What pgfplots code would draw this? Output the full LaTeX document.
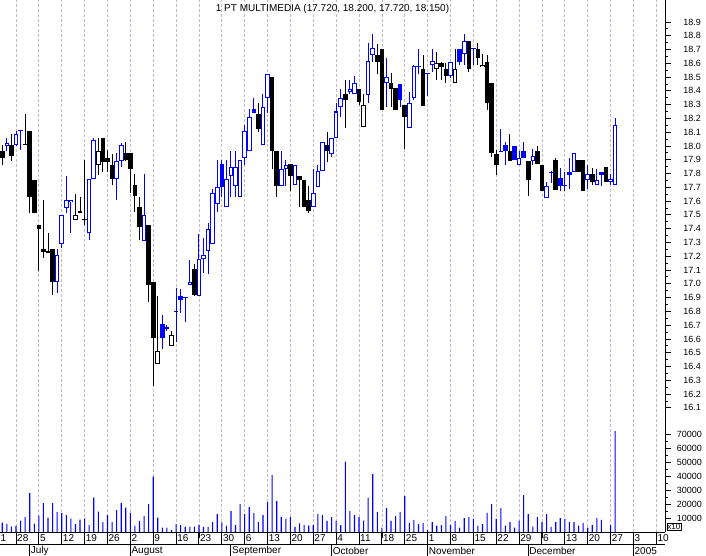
\documentclass[border=0pt]{standalone}
\usepackage{pgfplots}
\pgfplotsset{compat=1.18}
\usepackage{pgfplotstable}
\usepackage{fontspec}
\setmainfont{Liberation Sans}

\definecolor{upblue}{RGB}{0,0,255}
\definecolor{gridc}{RGB}{192,184,204}

\pgfplotsset{
  % high-low line as a vertical quiver from L to H
  wick/.style={mark=none, #1, line width=1pt,
    quiver={u=0, v={\thisrow{H}-\thisrow{L}}}},
  % open-close body, at least one pixel tall
  body/.style={mark=none, #1, line width=4.6pt,
    quiver={u=0, v={max(abs(\thisrow{C}-\thisrow{O}),0.0072)}}},
  inner/.style={mark=none, white, line width=2.6pt,
    quiver={u=0, v={max(abs(\thisrow{C}-\thisrow{O})-0.0146,0)}}},
}

% day index: 0 = Mon 28 Jun 2004, 5 trading days per week
% black, filled (close < open, close below previous close)
\pgfplotstableread{
d O H L C
-3 17.96 18.01 17.86 17.91
-1 18.01 18.09 17.89 17.93
2 18.01 18.23 18.01 18.01
3 18.11 18.11 17.51 17.63
4 17.75 17.75 17.51 17.51
5 17.43 17.43 17.09 17.40
6 17.25 17.61 17.19 17.23
7 17.24 17.37 17.22 17.22
8 17.25 17.25 16.92 17.01
14 17.53 17.63 17.51 17.51
15 17.47 17.90 17.43 17.46
19 18.06 18.06 17.81 17.88
20 17.91 17.97 17.81 17.88
21 17.86 17.94 17.72 17.76
24 17.95 18.03 17.89 17.90
25 17.95 17.95 17.66 17.83
26 17.72 17.80 17.52 17.64
27 17.56 17.63 17.32 17.41
29 17.43 17.43 16.87 16.99
30 17.01 17.01 16.26 16.61
39 17.11 17.14 16.91 16.92
53 18.23 18.31 18.10 18.12
56 18.50 18.50 17.83 17.96
57 17.96 17.96 17.63 17.71
60 17.87 17.87 17.67 17.78
62 17.78 17.78 17.56 17.75
63 17.75 17.75 17.56 17.56
64 17.61 17.71 17.51 17.53
68 18.01 18.10 17.88 17.96
72 18.38 18.48 18.13 18.33
75 18.41 18.41 18.30 18.32
79 18.66 18.74 18.52 18.61
80 18.70 18.70 18.26 18.26
82 18.46 18.53 18.28 18.41
83 18.42 18.42 18.26 18.26
85 18.30 18.30 17.98 18.21
89 18.56 18.66 18.29 18.29
93 18.60 18.61 18.48 18.57
94 18.56 18.60 18.46 18.51
99 18.76 18.76 18.54 18.56
101 18.70 18.75 18.59 18.64
103 18.61 18.66 18.26 18.31
104 18.46 18.46 17.92 17.95
105 17.94 17.97 17.79 17.86
108 17.96 18.09 17.89 17.89
112 17.89 17.89 17.64 17.75
114 17.96 18.00 17.87 17.87
115 17.86 17.86 17.67 17.67
118 17.90 17.91 17.68 17.68
123 17.90 17.90 17.81 17.81
124 17.90 17.90 17.67 17.67
126 17.80 17.84 17.72 17.74
129 17.85 17.85 17.74 17.74
}\blackfilled

% black, hollow
\pgfplotstableread{
d O H L C
13 17.46 17.65 17.46 17.50
18 17.86 18.06 17.79 17.96
31 16.42 16.91 16.42 16.51
34 16.55 16.66 16.55 16.63
76 18.14 18.38 18.14 18.30
92 18.56 18.68 18.48 18.60
96 18.46 18.70 18.46 18.56
102 18.57 18.67 18.57 18.59
}\blackhollow

% blue, filled
\pgfplotstableread{
d O H L C
32 16.71 16.77 16.53 16.61
33 16.69 16.70 16.66 16.67
36 16.91 16.96 16.79 16.88
45 17.87 17.90 17.63 17.70
52 18.27 18.35 18.24 18.24
84 18.45 18.45 18.28 18.33
97 18.70 18.70 18.59 18.61
107 18.01 18.03 17.86 17.96
109 18.00 18.00 17.90 17.90
111 17.96 18.03 17.91 17.91
119 17.77 17.84 17.67 17.71
121 17.81 17.91 17.69 17.79
128 17.81 17.81 17.71 17.79
}\bluefilled

% blue, hollow
\pgfplotstableread{
d O H L C
-2 18.00 18.06 17.96 18.02
0 18.01 18.11 18.00 18.09
1 18.11 18.11 17.97 18.11
9 17.01 17.25 16.93 17.21
10 17.29 17.50 17.26 17.50
11 17.55 17.78 17.51 17.61
12 17.59 17.61 17.37 17.61
16 17.37 17.76 17.32 17.76
17 17.76 18.06 17.76 18.04
22 17.76 17.95 17.61 17.89
23 17.89 18.02 17.85 18.01
28 17.31 17.80 17.31 17.50
35 16.80 16.97 16.58 16.80
37 16.90 16.90 16.72 16.90
38 16.99 17.17 16.99 17.01
40 16.91 17.36 16.91 17.18
41 17.18 17.33 17.08 17.21
42 17.24 17.44 17.07 17.40
43 17.29 17.69 17.29 17.66
44 17.58 17.90 17.52 17.70
46 17.56 17.90 17.56 17.76
47 17.78 17.96 17.63 17.85
48 17.71 17.96 17.63 17.85
49 17.63 17.90 17.63 17.90
50 17.91 18.15 17.86 18.11
51 17.96 18.27 17.96 18.21
54 18.01 18.38 18.01 18.28
55 18.35 18.52 18.24 18.52
58 17.71 17.96 17.71 17.83
59 17.83 17.90 17.71 17.86
61 17.72 17.86 17.72 17.86
65 17.56 17.83 17.56 17.66
66 17.70 17.86 17.70 17.82
67 17.82 18.03 17.82 18.03
69 17.94 18.06 17.92 18.06
70 18.06 18.31 18.06 18.25
71 18.28 18.41 18.21 18.35
73 18.39 18.48 18.38 18.41
74 18.38 18.51 18.38 18.46
77 18.37 18.75 18.31 18.62
78 18.66 18.81 18.61 18.71
81 18.46 18.64 18.28 18.50
86 18.13 18.39 18.13 18.31
87 18.35 18.59 18.33 18.58
88 18.58 18.70 18.52 18.58
90 18.52 18.53 18.36 18.53
91 18.59 18.70 18.54 18.62
95 18.51 18.61 18.49 18.61
98 18.67 18.81 18.59 18.76
100 18.71 18.71 18.59 18.71
106 17.96 18.12 17.96 17.96
110 17.86 17.96 17.86 17.91
113 17.89 17.98 17.86 17.93
116 17.62 17.74 17.62 17.71
117 17.81 17.82 17.73 17.81
120 17.71 17.81 17.67 17.71
122 17.81 17.95 17.81 17.95
125 17.75 17.86 17.69 17.80
127 17.72 17.83 17.72 17.75
130 17.74 17.80 17.72 17.76
131 17.72 18.20 17.72 18.15
}\bluehollow

% volume (axis shows x10)
\pgfplotstableread{
d v
-3 6700
-2 5700
-1 3800
0 4300
1 8100
2 10700
3 27800
4 5950
5 11700
6 20700
7 10200
8 20700
9 14300
10 13600
11 12100
12 9500
13 5700
14 8800
15 9800
16 5000
17 24500
18 14500
19 7100
20 12100
21 7100
22 15700
23 20700
24 17400
25 13800
26 4500
27 7900
28 11400
29 20000
30 39500
31 10200
32 3100
33 3100
34 1400
35 5700
36 5000
37 3600
38 3800
39 3800
40 5000
41 3600
42 3600
43 7100
44 12800
45 6900
46 4500
47 15000
48 5000
49 20000
50 12800
51 17800
52 13600
53 7100
54 12100
55 21400
56 40700
57 22100
58 10700
59 9500
60 10700
61 3600
62 6200
63 5000
64 4500
65 5000
66 12800
67 12100
68 7900
69 10700
70 7900
71 5000
72 50200
73 15000
74 12100
75 10700
76 8100
77 24500
78 41400
79 14300
80 3100
81 17100
82 7900
83 11400
84 14300
85 25700
86 6400
87 8600
88 5700
89 6400
90 1400
91 7100
92 4500
93 5000
94 11400
95 5000
96 7900
97 3100
98 10000
99 10700
100 9300
101 4500
102 5700
103 13600
104 20000
105 9300
106 17100
107 4500
108 7100
109 3100
110 8100
111 26400
112 12800
113 3800
114 10700
115 7100
116 12800
117 3600
118 7100
119 10000
120 9300
121 7100
122 7100
123 4500
124 6400
125 3100
126 5000
127 10000
128 8600
130 5000
131 72100
}\volume

\newcommand{\lblfont}{\fontsize{9}{10}\selectfont}
\newcommand{\datefont}{\fontsize{10}{12}\selectfont}
\newcommand{\lowbody}{min(\thisrow{O},\thisrow{C})-0.0036*(abs(\thisrow{C}-\thisrow{O})<0.0072)}

\begin{document}
\begin{tikzpicture}
% price panel
\begin{axis}[
  at={(0pt,0pt)}, anchor=north west,
  scale only axis, width=665pt, height=532pt,
  xmin=-3.5, xmax=141.9, ymin=15.199, ymax=19.059,
  axis x line=bottom, axis y line=right,
  axis line style={-, black, line width=1pt},
  xtick={0,5,...,140}, xticklabels={},
  xmajorgrids, major grid style={gridc, dash pattern=on 3pt off 2pt, line width=0.8pt},
  ytick={16.1,16.2,16.3,16.4,16.5,16.6,16.7,16.8,16.9,17.0,17.1,17.2,17.3,17.4,17.5,17.6,17.7,17.8,17.9,18.0,18.1,18.2,18.3,18.4,18.5,18.6,18.7,18.8,18.9},
  minor y tick num=1,
  tick align=outside, major tick length=6pt, minor tick length=3pt,
  tick style={black, line width=0.8pt},
  yticklabel style={font=\lblfont, anchor=east, xshift=30pt, inner sep=0pt,
    /pgf/number format/.cd, fixed, fixed zerofill, precision=1, assume math mode=true},
  title={1 PT MULTIMEDIA (17.720, 18.200, 17.720, 18.150)},
  title style={font=\datefont, anchor=north, yshift=-7pt},
]
% high-low lines
\addplot[wick=black] table[x=d, y=L]{\blackfilled};
\addplot[wick=black] table[x=d, y=L]{\blackhollow};
\addplot[wick=upblue] table[x=d, y=L]{\bluefilled};
\addplot[wick=upblue] table[x=d, y=L]{\bluehollow};
% open-close bodies
\addplot[body=black] table[x=d, y expr={\lowbody}]{\blackfilled};
\addplot[body=black] table[x=d, y expr={\lowbody}]{\blackhollow};
\addplot[body=upblue] table[x=d, y expr={\lowbody}]{\bluefilled};
\addplot[body=upblue] table[x=d, y expr={\lowbody}]{\bluehollow};
% hollow interiors
\addplot[inner] table[x=d, y expr={min(\thisrow{O},\thisrow{C})+0.0073}]{\blackhollow};
\addplot[inner] table[x=d, y expr={min(\thisrow{O},\thisrow{C})+0.0073}]{\bluehollow};
\end{axis}

% volume panel (x10)
\begin{axis}[
  at={(0pt,0pt)}, anchor=north west,
  scale only axis, width=665pt, height=532pt,
  xmin=-3.5, xmax=141.9, ymin=0, ymax=380000,
  axis x line=none, axis y line=right,
  axis line style={-, black, line width=1pt},
  ytick={10000,20000,...,70000}, minor y tick num=1,
  tick align=outside, major tick length=6pt, minor tick length=3pt,
  tick style={black, line width=0.8pt},
  scaled y ticks=false, clip=false,
  yticklabel style={font=\lblfont, anchor=east, xshift=31pt, inner sep=0pt,
    /pgf/number format/.cd, fixed, 1000 sep={}, assume math mode=true},
]
\addplot[ybar, bar width=1.1pt, fill=upblue, draw=none, mark=none] table[x=d, y=v]{\volume};
\node[draw, fill=white, inner sep=0.6pt, anchor=south west, font=\fontsize{8}{9}\selectfont]
  at (rel axis cs:1,0) [xshift=1.5pt, yshift=1.5pt] {x10};
\end{axis}

% day row
\begin{axis}[
  at={(0pt,-532pt)}, anchor=north west,
  scale only axis, width=665pt, height=12pt,
  xmin=-3.5, xmax=141.9, ymin=0, ymax=1,
  axis x line=bottom, axis y line=none,
  axis line style={-, black, line width=1pt},
  ytick=\empty, major tick length=0pt, clip=false,
  xtick={0,5,...,140},
  xticklabels={28,5,12,19,26,2,9,16,23,30,6,13,20,27,4,11,18,25,1,8,15,22,29,6,13,20,27,3,10},
  xmajorgrids, major grid style={black, solid, line width=1pt},
  xticklabel style={font=\datefont, anchor=west, yshift=6pt, inner sep=1pt},
]
\node[font=\datefont, anchor=west, inner sep=0.5pt] at (rel axis cs:0,0.5) {1};
\end{axis}

% month row
\begin{axis}[
  at={(0pt,-544pt)}, anchor=north west,
  scale only axis, width=665pt, height=12pt,
  xmin=-3.5, xmax=141.9, ymin=0, ymax=1,
  axis x line=top, axis y line=none,
  axis line style={-, black, line width=1pt},
  ytick=\empty, major tick length=0pt,
  xtick={3,25,47,69,90,112,135},
  xticklabels={July,August,September,October,November,December,2005},
  xmajorgrids, major grid style={black, solid, line width=1pt},
  xticklabel style={font=\datefont, anchor=west, yshift=-7pt, inner sep=1pt},
]
\end{axis}

\pgfresetboundingbox
\path[use as bounding box] (0pt,-556pt) rectangle (706pt,0pt);
\end{tikzpicture}
\end{document}
